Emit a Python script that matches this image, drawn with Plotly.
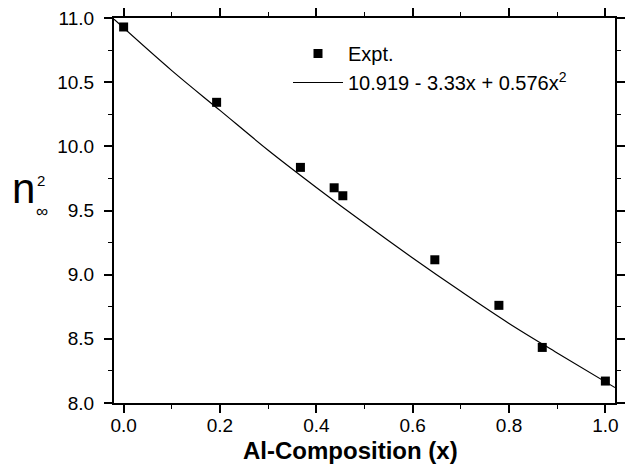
import plotly.graph_objects as go

# measured points
x_expt = [0.0, 0.193, 0.367, 0.437, 0.455, 0.646, 0.779, 0.869, 1.0]
y_expt = [10.93, 10.343, 9.836, 9.677, 9.615, 9.116, 8.761, 8.433, 8.171]

# fitted curve
x_fit = [-0.02, 0.1, 0.2, 0.3, 0.4, 0.5, 0.6, 0.7, 0.8, 0.9, 1.02]
y_fit = [10.99, 10.59, 10.28, 9.97, 9.68, 9.40, 9.13, 8.87, 8.62, 8.39, 8.12]

fit_label = '10.919 - 3.33x + 0.576x<sup>2</sup>'

W, H = 626, 470
L, R, T, B = 114, 11, 18, 67

def px(xp):
    return (xp - L) / (W - L - R)

def py(yp):
    return (H - B - yp) / (H - T - B)

fig = go.Figure()
fig.add_trace(go.Scatter(x=x_expt, y=y_expt, mode='markers', name='Expt.',
                         marker=dict(symbol='square', size=9, color='black')))
fig.add_trace(go.Scatter(x=x_fit, y=y_fit, mode='lines', name=fit_label,
                         line=dict(color='black', width=1.2, shape='spline')))

axis = dict(showline=True, linecolor='black', linewidth=2, mirror='allticks',
            ticks='outside', ticklen=8, tickwidth=1.5, tickcolor='black',
            showgrid=False, zeroline=False, automargin=False,
            tickfont=dict(size=19, color='black'),
            minor=dict(ticks='outside', ticklen=4, tickwidth=1.2, tickcolor='black'))

fig.update_layout(
    width=W, height=H,
    margin=dict(l=L, r=R, t=T, b=B),
    plot_bgcolor='white', paper_bgcolor='white',
    font=dict(family='Liberation Sans, Arial, sans-serif', color='black'),
    xaxis=dict(axis, range=[-0.02, 1.02], tick0=0, dtick=0.2,
               tickformat='.1f', minor=dict(axis['minor'], dtick=0.1),
               ticklabelstandoff=-4),
    yaxis=dict(axis, range=[8.0, 11.0], tick0=8, dtick=0.5,
               tickformat='.1f', minor=dict(axis['minor'], dtick=0.25),
               ticklabelstandoff=6),
    legend=dict(x=px(288), y=py(34), xanchor='left', yanchor='top',
                bgcolor='rgba(0,0,0,0)', font=dict(size=20), itemwidth=50,
                tracegroupgap=4),
    showlegend=True,
)

fig.add_annotation(x=px(350), y=py(450), xref='paper', yref='paper',
                   text='<b>Al-Composition (x)</b>', xanchor='center', yanchor='middle',
                   showarrow=False, font=dict(size=24))
fig.add_annotation(x=px(23), y=py(188), xref='paper', yref='paper', text='n',
                   xanchor='center', yanchor='middle',
                   showarrow=False, font=dict(size=42))
fig.add_annotation(x=px(41), y=py(180), xref='paper', yref='paper', text='2',
                   xanchor='center', yanchor='middle',
                   showarrow=False, font=dict(size=15))
fig.add_annotation(x=px(42), y=py(212), xref='paper', yref='paper', text='∞',
                   xanchor='center', yanchor='middle',
                   showarrow=False, font=dict(size=17))

# drop the default 8px body margin so the figure sits at the page corner
fig.write_html('out.html', config={'displayModeBar': False},
               post_script="document.body.style.margin='0';")
